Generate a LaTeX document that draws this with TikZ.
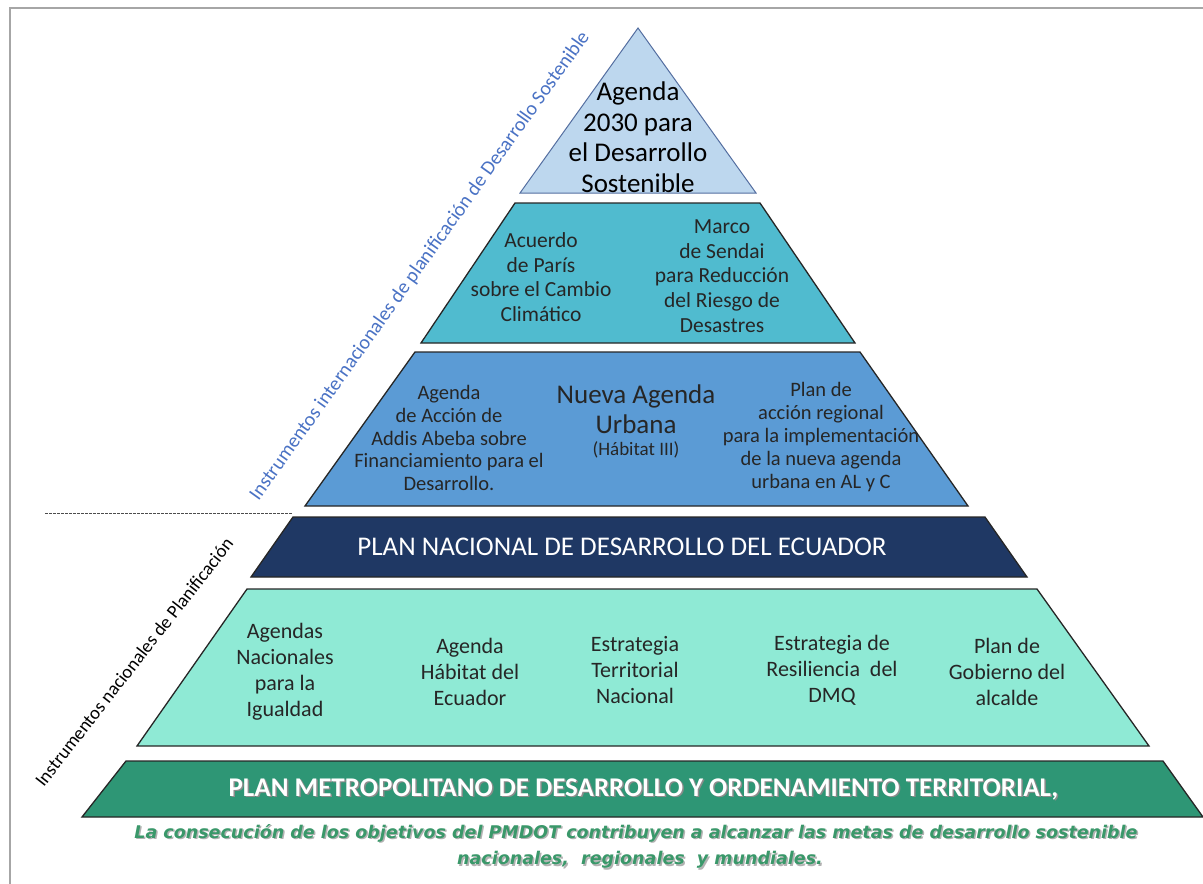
\documentclass[tikz,border=0pt]{standalone}
\usepackage{fontspec}
\setmainfont{Carlito}
\newfontfamily\capfont{DejaVu Sans}
\definecolor{tA}{RGB}{189,215,238}
\definecolor{tAline}{RGB}{84,110,160}
\definecolor{tB}{RGB}{80,187,207}
\definecolor{tC}{RGB}{91,155,213}
\definecolor{tD}{RGB}{31,56,100}
\definecolor{tE}{RGB}{143,234,213}
\definecolor{tF}{RGB}{46,150,117}
\definecolor{capgreen}{RGB}{58,152,106}
\definecolor{sideblue}{RGB}{74,114,196}
\definecolor{txt}{RGB}{38,38,38}
\begin{document}
\begin{tikzpicture}[x=1pt,y=-1pt,
  tier/.style={draw=black!85, line width=1.3pt, line join=miter},
  lbl/.style={align=center, text=txt, inner sep=0pt},
  fA/.style={font=\fontsize{27}{30.5}\selectfont},
  fB/.style={font=\fontsize{21.5}{24.7}\selectfont},
  fC/.style={font=\fontsize{20.5}{22.8}\selectfont},
  fE/.style={font=\fontsize{22}{26}\selectfont},
  bandtxt/.style={text=white, inner sep=0pt},
  captxt/.style={font=\capfont\bfseries\itshape\fontsize{17.5}{22}\selectfont, text=capgreen, inner sep=0pt},
  capshadow/.style={font=\capfont\bfseries\itshape\fontsize{17.5}{22}\selectfont, text=black!30, inner sep=0pt}
]
\useasboundingbox (0,0) rectangle (1203,884);
% frame
\draw[black!35, line width=1.5pt] (10,884) -- (10,8) -- (1203,8);

% tiers
\filldraw[fill=tA, draw=tAline, line width=1pt] (638,28) -- (756,193) -- (520,193) -- cycle;
\filldraw[tier, fill=tB] (515,203) -- (760,203) -- (855,343) -- (421,343) -- cycle;
\filldraw[tier, fill=tC] (415,352) -- (860,352) -- (968,506) -- (305,506) -- cycle;
\filldraw[tier, fill=tD] (293,517) -- (985,517) -- (1027,577) -- (251,577) -- cycle;
\filldraw[tier, fill=tE] (247,589) -- (1037,589) -- (1149,746) -- (137,746) -- cycle;
\filldraw[tier, fill=tF] (126,761) -- (1163,761) -- (1203,817) -- (82,817) -- cycle;

% dashed separator
\coordinate (dsA) at (45,513);
\coordinate (dsB) at (292,513);
\draw[black!70, line width=0.6pt, dash pattern=on 2.5pt off 1.5pt] (dsA) -- (dsB);

% tier 1
\node[lbl, fA, text=black] (agenda) at (638,137) {Agenda\\2030 para\\el Desarrollo\\Sostenible};
% tier 2
\node[lbl, fB] (paris) at (541,277) {Acuerdo\\de Par\'is\\sobre el Cambio\\Clim\'atico};
\node[lbl, fB] (sendai) at (722,276) {Marco\\de Sendai\\para Reducci\'on\\del Riesgo de\\Desastres};
% tier 3
\node[lbl, fC] (addis) at (449,438) {Agenda\\de Acci\'on de\\Addis Abeba sobre\\Financiamiento para el\\Desarrollo.};
\node[lbl, font=\fontsize{27}{30}\selectfont] (nau) at (636,409) {Nueva Agenda\\Urbana};
\node[lbl, font=\fontsize{19}{22}\selectfont] (habitat) at (636,450) {(H\'abitat III)};
\node[lbl, fC] (plan) at (821,437) {Plan de\\acci\'on regional\\para la implementaci\'on\\de la nueva agenda\\urbana en AL y C};
% tier 4
\node[bandtxt, font=\fontsize{27}{30}\selectfont] (pnd) at (622,547) {PLAN NACIONAL DE DESARROLLO DEL ECUADOR};
% tier 5
\node[lbl, fE] (igual) at (285,672) {Agendas\\Nacionales\\para la\\Igualdad};
\node[lbl, fE] (habec) at (470,672) {Agenda\\H\'abitat del\\Ecuador};
\node[lbl, fE] (etn) at (635,670) {Estrategia\\Territorial\\Nacional};
\node[lbl, fE] (resil) at (832,670) {Estrategia de\\Resiliencia\ \ del\\DMQ};
\node[lbl, fE] (gob) at (1007,672) {Plan de\\Gobierno del\\alcalde};
% tier 6
\node[bandtxt, text=black!45, font=\bfseries\fontsize{27}{30}\selectfont] at (645,790.5) {PLAN METROPOLITANO DE DESARROLLO Y ORDENAMIENTO TERRITORIAL,};
\node[bandtxt, font=\bfseries\fontsize{27}{30}\selectfont] (pmdot) at (643.5,789) {PLAN METROPOLITANO DE DESARROLLO Y ORDENAMIENTO TERRITORIAL,};
% caption
\node[capshadow] at (637.5,834.5) {La consecuci\'on de los objetivos del PMDOT contribuyen a alcanzar las metas de desarrollo sostenible};
\node[captxt] (capA) at (636,833) {La consecuci\'on de los objetivos del PMDOT contribuyen a alcanzar las metas de desarrollo sostenible};
\node[capshadow] at (641.5,861.5) {nacionales,\ \ regionales\ \ y mundiales.};
\node[captxt] (capB) at (640,860) {nacionales,\ \ regionales\ \ y mundiales.};

% side labels
\node[inner sep=0pt, text=sideblue, rotate=54.5, font=\fontsize{20}{24}\selectfont] (intl) at (420,266) {Instrumentos internacionales de planificaci\'on de Desarrollo Sostenible};
\node[inner sep=0pt, text=black, rotate=52, font=\fontsize{18.7}{22}\selectfont] (nacl) at (134,662) {Instrumentos nacionales de Planificaci\'on};
\end{tikzpicture}
\end{document}
